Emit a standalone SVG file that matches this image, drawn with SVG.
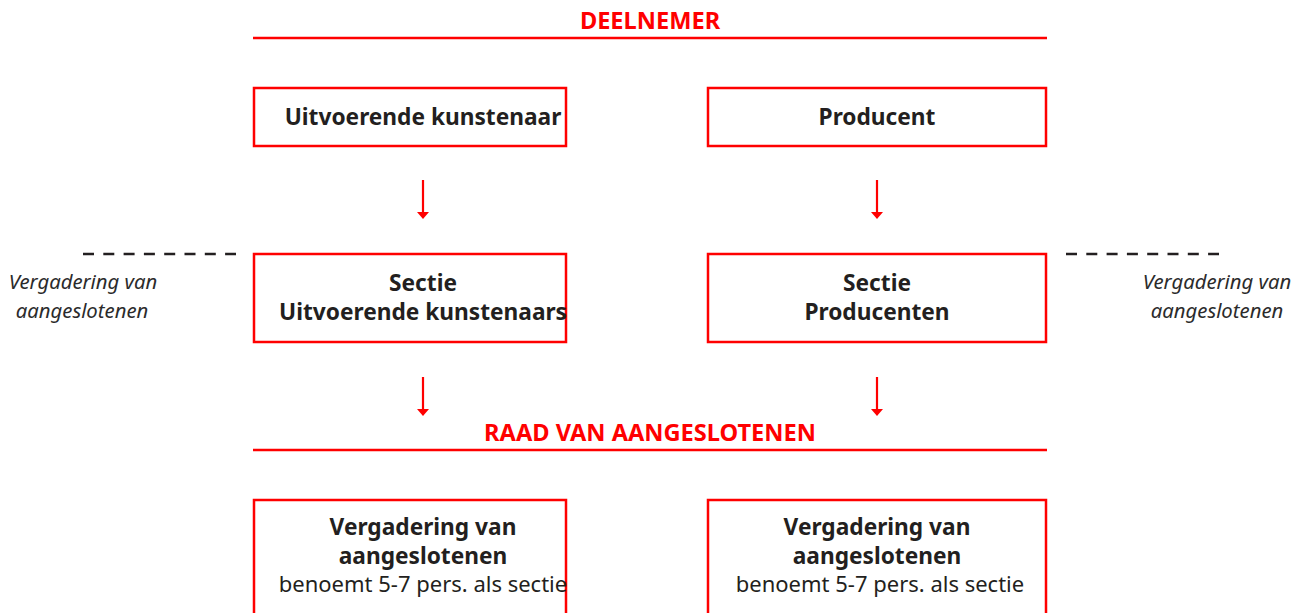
<svg xmlns="http://www.w3.org/2000/svg" width="1306" height="613" viewBox="0 0 1306 613">
<style>
.box{fill:#fff;stroke:#ff0000;stroke-width:2.5}
.t{font-family:"Noto Sans","Open Sans",sans-serif;font-size:22px;fill:#231f20;text-anchor:middle}
.b{font-weight:bold;font-size:22.7px}
.h{font-family:"Noto Sans","Open Sans",sans-serif;font-size:23.6px;font-weight:bold;fill:#ff0000;text-anchor:middle}
.i{font-family:"Noto Sans","Open Sans",sans-serif;font-size:20.3px;font-style:italic;fill:#2b2b2b;text-anchor:middle}
.rl{stroke:#ff0000;stroke-width:2.5}
.ar{stroke:#ff0000;stroke-width:2.2;fill:none}
.ah{fill:#ff0000}
.d{stroke:#231f20;stroke-width:2.5;stroke-dasharray:11 9.3}
</style>
<g id="header-deelnemer">
<text class="h" x="650" y="29">DEELNEMER</text>
<line class="rl" x1="253" y1="38" x2="1047" y2="38"/>
</g>
<g id="node-uitvoerende"><rect class="box" x="254" y="88" width="312" height="58"/><text class="t b" x="423" y="125">Uitvoerende kunstenaar</text></g>
<g id="node-producent"><rect class="box" x="708" y="88" width="338" height="58"/><text class="t b" x="877" y="125">Producent</text></g>
<g id="node-sectie-uk"><rect class="box" x="254" y="254" width="312" height="88"/><text class="t b" x="423" y="291">Sectie</text><text class="t b" x="423" y="320">Uitvoerende kunstenaars</text></g>
<g id="node-sectie-p"><rect class="box" x="708" y="254" width="338" height="88"/><text class="t b" x="877" y="291">Sectie</text><text class="t b" x="877" y="320">Producenten</text></g>
<g id="header-raad">
<text class="h" x="650" y="441">RAAD VAN AANGESLOTENEN</text>
<line class="rl" x1="253" y1="450" x2="1047" y2="450"/>
</g>
<g id="node-verg-l"><rect class="box" x="254" y="500" width="312" height="130"/><text class="t b" x="423" y="535">Vergadering van</text><text class="t b" x="423" y="564">aangeslotenen</text><text class="t" x="423" y="592">benoemt 5-7 pers. als sectie</text></g>
<g id="node-verg-r"><rect class="box" x="708" y="500" width="338" height="130"/><text class="t b" x="877" y="535">Vergadering van</text><text class="t b" x="877" y="564">aangeslotenen</text><text class="t" x="880" y="592">benoemt 5-7 pers. als sectie</text></g>
<g id="side-left"><line class="d" x1="83" y1="254" x2="236" y2="254"/><text class="i" x="83" y="289">Vergadering van</text><text class="i" x="82" y="318">aangeslotenen</text></g>
<g id="side-right"><line class="d" x1="1066" y1="254" x2="1219" y2="254"/><text class="i" x="1217" y="289">Vergadering van</text><text class="i" x="1217" y="318">aangeslotenen</text></g>
<g id="connectors">
<line class="ar" x1="423" y1="180" x2="423" y2="213"/><path class="ah" d="M417,212 L429,212 L423,219 Z"/>
<line class="ar" x1="877" y1="180" x2="877" y2="213"/><path class="ah" d="M871,212 L883,212 L877,219 Z"/>
<line class="ar" x1="423" y1="377" x2="423" y2="410"/><path class="ah" d="M417,409 L429,409 L423,416 Z"/>
<line class="ar" x1="877" y1="377" x2="877" y2="410"/><path class="ah" d="M871,409 L883,409 L877,416 Z"/>
</g>
</svg>
